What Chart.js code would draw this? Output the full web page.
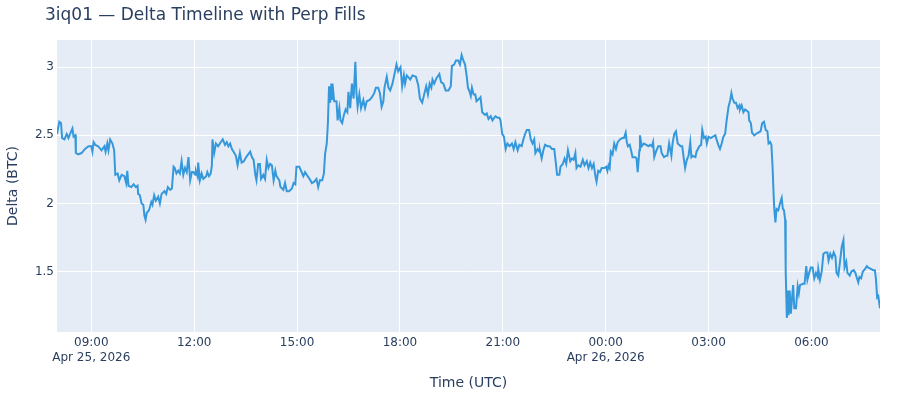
<!DOCTYPE html>
<html>
<head>
<meta charset="utf-8">
<title>3iq01 — Delta Timeline with Perp Fills</title>
<script src="https://cdn.jsdelivr.net/npm/chart.js@4.4.1/dist/chart.umd.min.js"></script>
<style>
  body { margin: 0; background: #fff; }
  #wrap { position: relative; width: 900px; height: 400px; }
  #title {
    position: absolute; left: 45px; top: 6px;
    font: 17px "DejaVu Sans", Verdana, Arial, sans-serif; line-height: 17px;
    color: #2a3f5f; white-space: nowrap;
  }
</style>
</head>
<body>
<div id="wrap">
  <canvas id="chart" width="900" height="400"></canvas>
  <div id="title">3iq01 — Delta Timeline with Perp Fills</div>
</div>
<script>
// time axis: minutes after 2026-04-25 08:00 UTC
var minutesSinceStart = [
  0, 4, 7, 9, 13, 17, 20, 23, 27, 29, 32, 33, 37, 43, 49, 55, 60, 62, 64, 67,
  72, 78, 83, 85, 88, 90, 93, 97, 100, 102, 106, 109, 113, 118, 121, 123, 125, 130, 134, 138,
  141, 142, 145, 148, 151, 153, 155, 157, 161, 165, 167, 170, 173, 177, 180, 183, 188, 191, 194, 198,
  201, 204, 206, 209, 212, 215, 218, 221, 224, 227, 230, 233, 236, 239, 242, 243, 246, 247, 250, 253,
  256, 261, 263, 266, 269, 271, 272, 275, 278, 282, 285, 290, 294, 297, 300, 303, 306, 309, 313, 316,
  320, 323, 327, 331, 338, 341, 344, 347, 349, 352, 355, 357, 361, 364, 367, 370, 373, 376, 379, 382,
  384, 389, 391, 396, 399, 402, 406, 411, 414, 417, 419, 424, 427, 431, 434, 437, 442, 446, 450, 454,
  457, 460, 464, 467, 469, 472, 474, 476, 478, 480, 481, 482, 485, 489, 491, 494, 496, 499, 502, 505,
  508, 510, 513, 516, 519, 522, 524, 526, 529, 532, 536, 539, 542, 547, 551, 555, 558, 562, 565, 568,
  571, 573, 577, 580, 583, 587, 592, 594, 597, 601, 604, 607, 609, 612, 618, 622, 628, 632, 635, 639,
  643, 646, 649, 652, 655, 657, 660, 664, 669, 672, 676, 680, 685, 689, 691, 695, 698, 702, 705, 708,
  711, 714, 717, 719, 722, 724, 726, 729, 732, 734, 739, 741, 744, 749, 752, 755, 759, 762, 767, 771,
  774, 776, 779, 782, 785, 788, 792, 796, 799, 802, 806, 809, 813, 816, 819, 822, 826, 829, 832, 835,
  837, 841, 844, 845, 848, 851, 854, 858, 862, 866, 870, 873, 875, 879, 881, 885, 888, 891, 894, 898,
  901, 904, 907, 909, 912, 916, 920, 923, 927, 930, 933, 936, 939, 942, 944, 947, 950, 953, 958, 961,
  963, 965, 967, 969, 972, 975, 978, 981, 985, 989, 992, 995, 997, 999, 1002, 1005, 1007, 1012, 1014, 1016,
  1019, 1020, 1023, 1027, 1031, 1035, 1038, 1041, 1043, 1045, 1048, 1052, 1056, 1058, 1062, 1066, 1068, 1071, 1075, 1077,
  1080, 1083, 1086, 1089, 1091, 1094, 1097, 1099, 1102, 1105, 1108, 1110, 1112, 1117, 1119, 1124, 1127, 1129, 1132, 1135,
  1137, 1140, 1144, 1148, 1152, 1154, 1157, 1160, 1163, 1166, 1169, 1172, 1175, 1178, 1180, 1182, 1185, 1188, 1191, 1194,
  1195, 1198, 1201, 1204, 1207, 1210, 1211, 1214, 1216, 1220, 1223, 1227, 1231, 1234, 1237, 1240, 1243, 1245, 1248, 1250,
  1252, 1254, 1255, 1257, 1259, 1262, 1265, 1268, 1270, 1272, 1274, 1275, 1277, 1279, 1280, 1282, 1284, 1286, 1288, 1290,
  1293, 1296, 1298, 1300, 1305, 1308, 1311, 1313, 1316, 1319, 1322, 1325, 1328, 1331, 1332, 1335, 1338, 1341, 1344, 1348,
  1350, 1353, 1356, 1359, 1362, 1364, 1367, 1370, 1373, 1376, 1378, 1381, 1383, 1387, 1390, 1394, 1397, 1399, 1402, 1404,
  1407, 1410, 1414, 1417, 1419, 1424, 1428, 1431, 1433, 1435, 1437, 1440
];

var deltaBtc = [
  2.51, 2.60, 2.59, 2.48, 2.47, 2.51, 2.48, 2.51, 2.55, 2.49, 2.50, 2.37, 2.36, 2.37, 2.40, 2.42, 2.42, 2.38, 2.45, 2.43,
  2.42, 2.39, 2.42, 2.38, 2.44, 2.39, 2.47, 2.44, 2.39, 2.21, 2.22, 2.17, 2.21, 2.20, 2.15, 2.24, 2.13, 2.12, 2.14, 2.12,
  2.13, 2.07, 2.06, 2.00, 1.99, 1.91, 1.88, 1.93, 1.95, 2.01, 1.99, 2.06, 2.02, 2.05, 2.00, 2.07, 2.09, 2.07, 2.12, 2.10,
  2.11, 2.27, 2.26, 2.22, 2.24, 2.22, 2.31, 2.21, 2.26, 2.23, 2.34, 2.17, 2.23, 2.23, 2.21, 2.24, 2.20, 2.30, 2.17, 2.22,
  2.18, 2.20, 2.23, 2.20, 2.22, 2.28, 2.47, 2.37, 2.44, 2.42, 2.44, 2.47, 2.43, 2.45, 2.42, 2.44, 2.40, 2.38, 2.35, 2.28,
  2.37, 2.30, 2.31, 2.34, 2.38, 2.34, 2.32, 2.21, 2.17, 2.29, 2.29, 2.18, 2.21, 2.18, 2.32, 2.26, 2.29, 2.28, 2.17, 2.24,
  2.20, 2.17, 2.12, 2.10, 2.15, 2.09, 2.09, 2.11, 2.15, 2.14, 2.27, 2.27, 2.24, 2.20, 2.23, 2.21, 2.18, 2.15, 2.16, 2.18,
  2.12, 2.17, 2.17, 2.22, 2.36, 2.44, 2.59, 2.86, 2.74, 2.88, 2.76, 2.88, 2.75, 2.75, 2.61, 2.70, 2.61, 2.59, 2.65, 2.69,
  2.67, 2.82, 2.70, 2.88, 2.77, 3.04, 2.81, 2.71, 2.80, 2.70, 2.76, 2.70, 2.75, 2.76, 2.78, 2.81, 2.85, 2.85, 2.81, 2.71,
  2.75, 2.85, 2.93, 2.85, 2.83, 2.88, 2.98, 3.02, 2.97, 3.00, 2.86, 2.94, 2.88, 2.94, 2.91, 2.94, 2.93, 2.87, 2.77, 2.74,
  2.81, 2.86, 2.80, 2.88, 2.85, 2.91, 2.88, 2.92, 2.95, 2.89, 2.88, 2.83, 2.83, 2.86, 3.01, 3.02, 3.05, 3.05, 3.02, 3.09,
  3.05, 3.02, 2.93, 2.85, 2.82, 2.79, 2.85, 2.80, 2.80, 2.75, 2.77, 2.78, 2.67, 2.65, 2.66, 2.62, 2.64, 2.61, 2.64, 2.63,
  2.63, 2.61, 2.51, 2.49, 2.40, 2.44, 2.42, 2.44, 2.40, 2.45, 2.39, 2.43, 2.42, 2.47, 2.51, 2.54, 2.54, 2.47, 2.44, 2.47,
  2.37, 2.40, 2.38, 2.39, 2.33, 2.39, 2.43, 2.42, 2.42, 2.40, 2.40, 2.29, 2.21, 2.21, 2.27, 2.29, 2.33, 2.29, 2.39, 2.31,
  2.33, 2.32, 2.37, 2.26, 2.28, 2.27, 2.32, 2.28, 2.31, 2.26, 2.30, 2.26, 2.29, 2.20, 2.16, 2.24, 2.23, 2.26, 2.26, 2.27,
  2.24, 2.28, 2.26, 2.38, 2.36, 2.44, 2.40, 2.45, 2.47, 2.48, 2.48, 2.52, 2.45, 2.42, 2.43, 2.38, 2.34, 2.34, 2.33, 2.23,
  2.39, 2.50, 2.42, 2.44, 2.43, 2.42, 2.43, 2.42, 2.45, 2.34, 2.38, 2.42, 2.42, 2.37, 2.34, 2.35, 2.35, 2.44, 2.35, 2.44,
  2.51, 2.53, 2.44, 2.43, 2.42, 2.42, 2.32, 2.26, 2.32, 2.35, 2.45, 2.34, 2.35, 2.34, 2.38, 2.42, 2.43, 2.54, 2.48, 2.49,
  2.44, 2.49, 2.48, 2.49, 2.50, 2.47, 2.43, 2.40, 2.44, 2.49, 2.51, 2.62, 2.71, 2.76, 2.81, 2.77, 2.74, 2.74, 2.70, 2.72,
  2.69, 2.72, 2.67, 2.69, 2.68, 2.67, 2.61, 2.59, 2.52, 2.50, 2.51, 2.52, 2.53, 2.59, 2.60, 2.54, 2.53, 2.44, 2.45, 2.43,
  2.27, 2.05, 1.96, 1.86, 1.96, 1.95, 2.00, 2.04, 1.96, 1.95, 1.88, 1.50, 1.16, 1.36, 1.18, 1.36, 1.19, 1.30, 1.40, 1.23,
  1.23, 1.39, 1.34, 1.40, 1.41, 1.41, 1.54, 1.44, 1.49, 1.53, 1.53, 1.45, 1.49, 1.46, 1.52, 1.44, 1.50, 1.63, 1.64, 1.64,
  1.58, 1.63, 1.60, 1.64, 1.61, 1.49, 1.47, 1.57, 1.68, 1.73, 1.53, 1.57, 1.49, 1.47, 1.50, 1.51, 1.49, 1.46, 1.42, 1.46,
  1.45, 1.50, 1.52, 1.54, 1.53, 1.52, 1.51, 1.51, 1.44, 1.31, 1.32, 1.23
];

var xTickMinutes = [60, 240, 420, 600, 780, 960, 1140, 1320];
var xTickTimes = ['09:00', '12:00', '15:00', '18:00', '21:00', '00:00', '03:00', '06:00'];
var xTickDates = ['Apr 25, 2026', '', '', '', '', 'Apr 26, 2026', '', ''];
var yTickValues = [1.5, 2, 2.5, 3];
var yTickLabels = ['1.5', '2', '2.5', '3'];

var textColor = '#2a3f5f';
var fontFamily = '"DejaVu Sans", Verdana, Arial, sans-serif';

var points = [];
for (var i = 0; i < minutesSinceStart.length; i++) {
  points.push({x: minutesSinceStart[i], y: deltaBtc[i]});
}

// plotly-like plot background
var plotBackground = {
  id: 'plotBackground',
  beforeDraw: function(chart) {
    var ctx = chart.ctx, a = chart.chartArea;
    ctx.save();
    ctx.fillStyle = '#e5ecf6';
    ctx.fillRect(a.left, a.top, a.right - a.left, a.bottom - a.top);
    ctx.restore();
  }
};

var ctx = document.getElementById('chart').getContext('2d');
var deltaChart = new Chart(ctx, {
  type: 'line',
  data: {
    datasets: [{
      data: points,
      borderColor: '#3498db',
      borderWidth: 2,
      pointRadius: 0,
      tension: 0,
      fill: false
    }]
  },
  options: {
    responsive: false,
    animation: false,
    layout: {padding: {left: 0, right: 20, top: 40, bottom: 0}},
    plugins: {
      legend: {display: false},
      tooltip: {enabled: false}
    },
    scales: {
      x: {
        type: 'linear',
        min: 0,
        max: 1440,
        afterBuildTicks: function(axis) {
          axis.ticks = xTickMinutes.map(function(v) { return {value: v}; });
        },
        afterFit: function(axis) { axis.height = 68; },
        grid: {color: '#ffffff', lineWidth: 1, drawTicks: false},
        border: {display: false},
        ticks: {
          padding: 4,
          autoSkip: false,
          maxRotation: 0,
          color: textColor,
          font: {family: fontFamily, size: 12},
          callback: function(value) {
            var k = xTickMinutes.indexOf(value);
            if (k < 0) return '';
            return xTickDates[k] ? [xTickTimes[k], xTickDates[k]] : xTickTimes[k];
          }
        },
        title: {
          display: true,
          text: 'Time (UTC)',
          color: textColor,
          font: {family: fontFamily, size: 14},
          padding: {top: 0, bottom: 8}
        }
      },
      y: {
        min: 1.056,
        max: 3.2,
        afterBuildTicks: function(axis) {
          axis.ticks = yTickValues.map(function(v) { return {value: v}; });
        },
        afterFit: function(axis) { axis.width = 57; },
        grid: {color: '#ffffff', lineWidth: 1, drawTicks: false},
        border: {display: false},
        ticks: {
          padding: 3,
          color: textColor,
          font: {family: fontFamily, size: 12},
          callback: function(value) {
            var k = yTickValues.indexOf(value);
            return k < 0 ? '' : yTickLabels[k];
          }
        },
        title: {
          display: true,
          text: 'Delta (BTC)',
          color: textColor,
          font: {family: fontFamily, size: 14},
          padding: {top: 5, bottom: 0}
        }
      }
    }
  },
  plugins: [plotBackground]
});
</script>
</body>
</html>
